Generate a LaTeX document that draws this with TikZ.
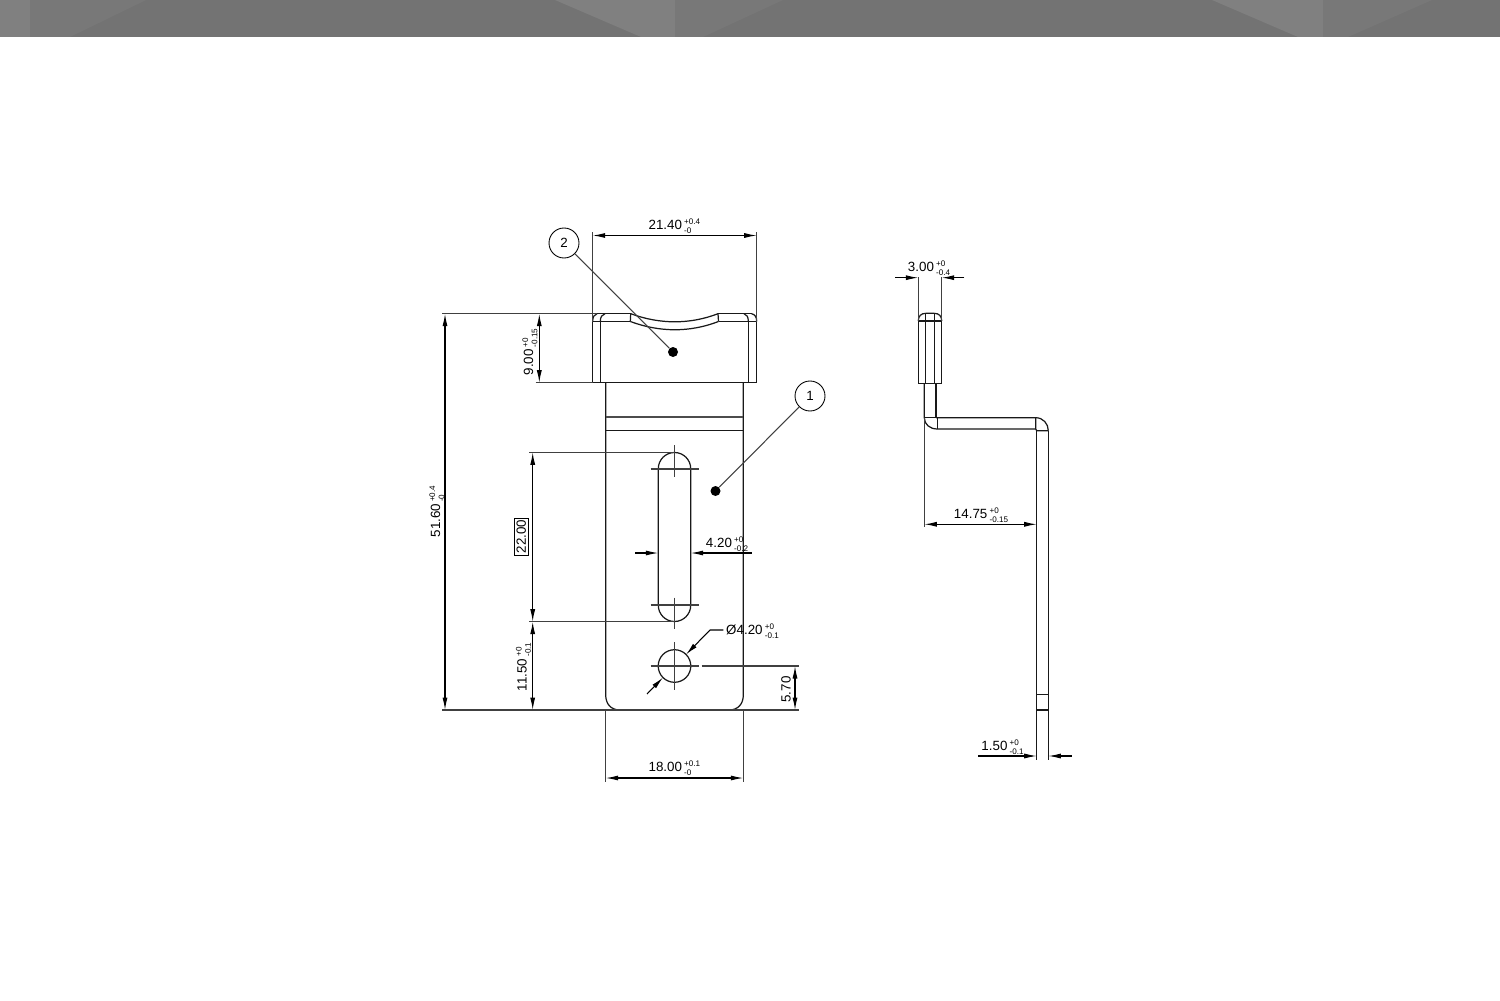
\documentclass[tikz,border=0pt]{standalone}
\usepackage{fontspec}
\setmainfont{Liberation Sans}
\usetikzlibrary{arrows.meta}
\definecolor{bandgray}{HTML}{737373}
\definecolor{bandmid}{HTML}{787878}
\definecolor{bandlight}{HTML}{808080}
\newcommand{\tolstack}[2]{\,\rlap{\raisebox{.7ex}{\fontsize{4.6}{5}\selectfont #1}}\raisebox{-.6ex}{\fontsize{4.6}{5}\selectfont #2}}
\tikzset{
    part/.style = {line width = .7pt, black!90},
    thinline/.style = {line width = .6pt, black!75},
    dimline/.style = {line width = .6pt, black, {Latex[length = .25cm, width = .1cm]}-{Latex[length = .25cm, width = .1cm]}},
    dimhalf/.style = {line width = .6pt, black, -{Latex[length = .25cm, width = .1cm]}},
    dimlabel/.style = {inner sep = 0pt, font = \fontsize{7.6}{9}\selectfont},
    balloon/.style = {circle, draw = black, line width = .5pt, minimum size = .6cm, inner sep = 0pt, font = \fontsize{7.6}{9}\selectfont},
    dotmark/.style = {circle, fill = black, minimum size = .2cm, inner sep = 0pt}
}
\begin{document}
\begin{tikzpicture}[x = .02cm, y = -.02cm]
    \useasboundingbox (0,0) rectangle (1500,1000);

    % Draw the header band:
    \fill [bandgray] (0,0) rectangle (1500,37);
    \fill [bandmid] (30,0) -- (146,0) -- (70,37) -- (30,37) -- cycle;
    \fill [bandlight] (0,0) rectangle (30,37);
    \fill [bandlight] (555,0) -- (675,0) -- (675,37) -- (641,37) -- cycle;
    \fill [bandmid] (675,0) -- (783,0) -- (703,37) -- (675,37) -- cycle;
    \fill [bandlight] (1212,0) -- (1323,0) -- (1323,37) -- (1298,37) -- cycle;
    \fill [bandmid] (1323,0) -- (1432,0) -- (1348,37) -- (1323,37) -- cycle;

    % Draw the head of the front view:
    \draw [part] (592.7,321.5) -- (592.7,382.7) -- (756.7,382.7) -- (756.7,321.5);
    \draw [part] (600.3,321.5) -- (600.3,382.7);
    \draw [part] (748.3,321.5) -- (748.3,382.7);
    \draw [part] (597,313.7) -- (630.7,313.7);
    \draw [part] (718,313.7) -- (751.5,313.7);
    \draw [part] (592.7,321.5) -- (630.3,321.5);
    \draw [part] (718.5,321.5) -- (756.7,321.5);
    \draw [part] (592.7,321.5) .. controls (592.7,317) and (594,314.5) .. (597,313.7);
    \draw [part] (600.3,321.5) .. controls (600.3,317) and (602,314.5) .. (605,313.7);
    \draw [part] (756.7,321.5) .. controls (756.7,317) and (755,314.5) .. (751.5,313.7);
    \draw [part] (748.3,321.5) .. controls (748.3,317) and (747,314.5) .. (744,313.7);
    \draw [part] (630.7,313.7) -- (630.3,321.5);
    \draw [part] (718,313.7) -- (718.5,321.5);
    \draw [part] (630.7,313.7) .. controls (660,324.5) and (690,324.5) .. (718,313.7);
    \draw [part] (630.3,321.5) .. controls (660,332.5) and (690,332.5) .. (718.5,321.5);

    % Draw the body of the front view:
    \draw [part] (605.7,382.7) -- (605.7,695) .. controls (605.7,704) and (611,710) .. (620,710);
    \draw [part] (743.3,382.7) -- (743.3,695) .. controls (743.3,704) and (738,710) .. (729,710);
    \draw [line width = 1.1pt, black!70] (605.7,416.7) -- (743.3,416.7);
    \draw [part] (605.7,430.3) -- (743.3,430.3);

    % Draw the slot and the hole:
    \draw [part] (658.3,468.7) arc [start angle = 180, end angle = 360, radius = 16.2]
        -- (690.7,605.3) arc [start angle = 0, end angle = 180, radius = 16.2] -- cycle;
    \draw [part] (674.5,666) circle (16.3);
    \foreach \cy/\ytop/\ybot in {469/445/476.7, 605/597.7/629.3, 666/642/690} {
        \draw [thinline] (674.5,\ytop) -- (674.5,\ybot);
        \draw [thinline] (650.7,\cy) -- (698.5,\cy);
    }

    % Draw the balloons:
    \node [balloon] (Balloon2) at (564,243) {2};
    \node [balloon] (Balloon1) at (810,396) {1};
    \node [dotmark] (Dot2) at (673,352) {};
    \node [dotmark] (Dot1) at (715.5,491) {};
    \draw [thinline] (Balloon2) -- (Dot2);
    \draw [thinline] (Balloon1) -- (Dot1);

    % Draw the extension lines of the front view:
    \draw [thinline] (592.7,232) -- (592.7,321.5);
    \draw [thinline] (756.7,232) -- (756.7,321.5);
    \draw [thinline] (442,313.7) -- (597,313.7);
    \draw [thinline] (535.5,382.7) -- (592.7,382.7);
    \draw [thinline] (529,452.3) -- (674.5,452.3);
    \draw [thinline] (529,621.7) -- (674.5,621.7);
    \draw [thinline] (442,710) -- (799,710);
    \draw [thinline] (701.7,666) -- (799,666);
    \draw [thinline] (605.7,710) -- (605.7,781.5);
    \draw [thinline] (743.3,710) -- (743.3,781.5);

    % Draw the dimensions of the front view:
    \draw [dimline] (592.7,235.5) -- (756.7,235.5);
    \node [dimlabel] (Top) at (670,226.5) {21.40\tolstack{+0.4}{-0}};
    \draw [dimline] (445,313.7) -- (445,710);
    \node [dimlabel, rotate = 90] (Height) at (437,516) {51.60\tolstack{+0.4}{-0}};
    \draw [dimline] (539.3,313.7) -- (539.3,382.7);
    \node [dimlabel, rotate = 90] (Head) at (530,352) {9.00\tolstack{+0}{-0.15}};
    \draw [dimline] (532.7,452.3) -- (532.7,621.7);
    \node [dimlabel, rotate = 90, draw = black, line width = .4pt, inner xsep = 1pt, inner ysep = 1.2pt] (Slot) at (521.3,536.5) {22.00};
    \draw [dimline] (532.7,621.7) -- (532.7,710);
    \node [dimlabel, rotate = 90] (Edge) at (523.5,667) {11.50\tolstack{+0}{-0.1}};
    \draw [dimhalf] (635,553) -- (658.3,553);
    \draw [dimhalf] (751.7,553) -- (690.7,553);
    \node [dimlabel] (SlotWidth) at (727,544) {4.20\tolstack{+0}{-0.2}};
    \draw [dimhalf] (723.3,630) -- (710,630) -- (686,654.5);
    \draw [dimhalf] (647,694) -- (663,677.5);
    \node [dimlabel] (Bore) at (752.5,631.5) {Ø4.20\tolstack{+0}{-0.1}};
    \draw [dimline] (795,666) -- (795,710);
    \node [dimlabel, rotate = 90] (BoreEdge) at (786,689.5) {5.70};
    \draw [dimline] (605.7,778) -- (743.3,778);
    \node [dimlabel] (Width) at (670,768.5) {18.00\tolstack{+0.1}{-0}};

    % Draw the side view:
    \draw [part] (918.3,321) -- (918.3,383.3) -- (941.7,383.3) -- (941.7,321) -- cycle;
    \draw [part] (918.3,321) .. controls (918.3,316) and (921,313.3) .. (926,313.3)
        -- (934,313.3) .. controls (939,313.3) and (941.7,316) .. (941.7,321);
    \draw [part] (925.7,313.3) -- (925.7,383.3);
    \draw [part] (934.3,313.3) -- (934.3,383.3);
    \draw [part] (924.3,383.3) -- (924.3,417.7) .. controls (924.3,424.5) and (930,429) .. (937.3,429)
        -- (1035.7,429);
    \draw [part] (936,383.3) -- (936,417.7) -- (924.3,417.7);
    \draw [part] (936,417.7) -- (1035.7,417.7) .. controls (1043,417.7) and (1048.3,423.5) .. (1048.3,430.7);
    \draw [part] (937.3,417.7) -- (937.3,429);
    \draw [part] (1035.7,417.7) -- (1035.7,429) -- (1036.7,430.7) -- (1048.3,430.7);
    \draw [part] (1036.7,430.7) -- (1036.7,760);
    \draw [part] (1048.3,430.7) -- (1048.3,760);
    \draw [part] (1036.7,694.3) -- (1048.3,694.3);
    \draw [part] (1036.7,710) -- (1048.3,710);

    % Draw the dimensions of the side view:
    \draw [thinline] (918.3,277) -- (918.3,321);
    \draw [thinline] (941.7,277) -- (941.7,321);
    \draw [dimhalf] (895,277.7) -- (918.3,277.7);
    \draw [dimhalf] (964.3,277.7) -- (941.7,277.7);
    \node [dimlabel] (Thick) at (929,268.5) {3.00\tolstack{+0}{-0.4}};
    \draw [thinline] (924.3,417.7) -- (924.3,527);
    \draw [dimline] (924.3,524.3) -- (1036.7,524.3);
    \node [dimlabel] (Offset) at (981,515) {14.75\tolstack{+0}{-0.15}};
    \draw [dimhalf] (978,756) -- (1036.7,756);
    \draw [dimhalf] (1071.7,756) -- (1048.3,756);
    \node [dimlabel] (Sheet) at (1002.5,747) {1.50\tolstack{+0}{-0.1}};
\end{tikzpicture}
\end{document}
